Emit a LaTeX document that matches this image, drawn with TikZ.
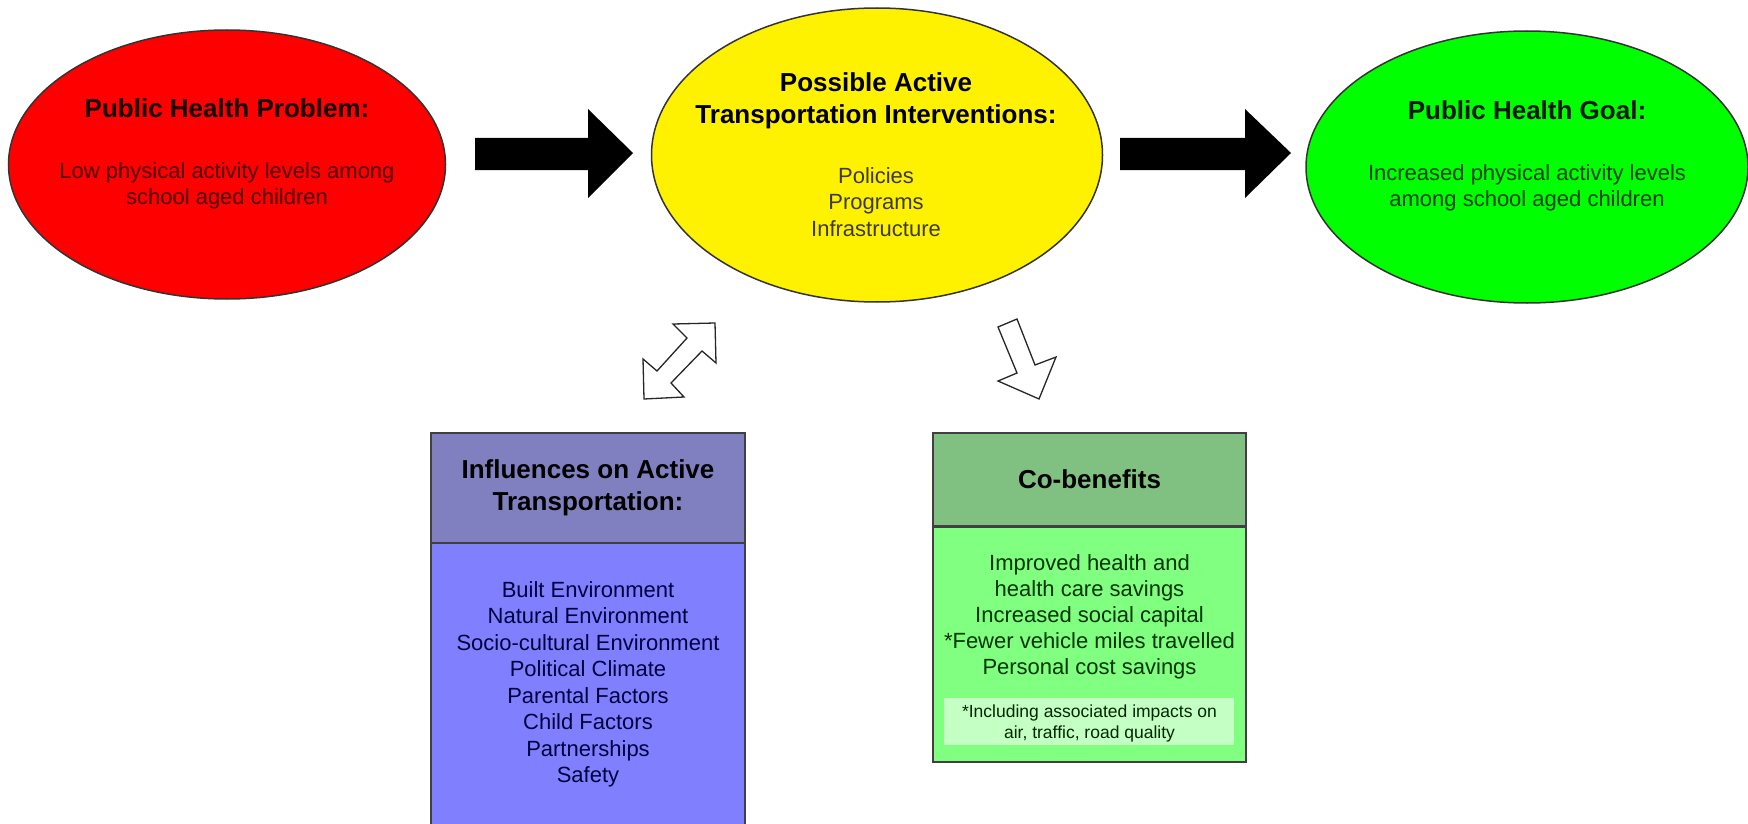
\documentclass[tikz,border=0pt]{standalone}
\usepackage{fontspec}
\setmainfont{Liberation Sans}
\usetikzlibrary{shapes.geometric}
\definecolor{purphead}{HTML}{8080C0}
\definecolor{purpbody}{HTML}{8080FF}
\definecolor{grnhead}{HTML}{80C080}
\definecolor{grnbody}{HTML}{80FF80}
\definecolor{grnnote}{HTML}{C4FFC4}
\definecolor{boxline}{HTML}{404040}
\tikzset{
  oval/.style={ellipse, draw=black!80, line width=1.5pt, inner sep=0pt},
  ttl/.style={anchor=base, align=center, inner sep=0pt, font=\fontsize{26}{31.7}\selectfont\bfseries},
  bdy/.style={anchor=base, align=center, inner sep=0pt, font=\fontsize{22}{26.7}\selectfont},
  notetxt/.style={anchor=base, align=center, inner sep=0pt, font=\fontsize{17.5}{21.7}\selectfont},
  blockarrow/.style={fill=black},
  hollowarrow/.style={draw=black!85, fill=white, line width=1.3pt, line join=miter},
  boxedge/.style={draw=boxline, line width=2pt}
}
\begin{document}
\begin{tikzpicture}[x=1pt,y=-1pt]
\useasboundingbox (0,0) rectangle (1748,824);
% ellipses
\node[oval, fill=red, minimum width=437pt, minimum height=269pt] (prob) at (227,164.5) {};
\node[oval, fill=yellow, minimum width=451pt, minimum height=294pt] (interv) at (877,155) {};
\node[oval, fill=green, minimum width=442pt, minimum height=272pt] (goal) at (1527,167) {};
% texts in ellipses (anchor=base is the last line's baseline)
\node[ttl, text=black!90!red] (probT) at (227,118) {Public Health Problem:};
\node[bdy, text=red!30!black] (probB) at (227,204.7) {Low physical activity levels among\\school aged children};
\node[ttl] (intervT) at (876,123.5) {Possible Active\\Transportation Interventions:};
\node[bdy, text=yellow!12!black] (intervB) at (876,236.4) {Policies\\Programs\\Infrastructure};
\node[ttl, text=black!90!green] (goalT) at (1527,120) {Public Health Goal:};
\node[bdy, text=green!25!black] (goalB) at (1527,206.7) {Increased physical activity levels\\among school aged children};
% black block arrows
\fill[blockarrow] (475,138) -- (588,138) -- (588,109) -- (633,153) -- (588,198) -- (588,170) -- (475,170) -- cycle;
\fill[blockarrow] (1120,138) -- (1245,138) -- (1245,109) -- (1291,153) -- (1245,198) -- (1245,170) -- (1120,170) -- cycle;
% hollow arrows
\draw[hollowarrow] (715,323) -- (673,324) -- (687,338) -- (657,371) -- (643,359) -- (644,399) -- (684,397) -- (671,383) -- (702,351) -- (716,363) -- cycle;
\draw[hollowarrow] (998,327) -- (1017,319) -- (1035,365) -- (1056,357) -- (1039,399) -- (998,381) -- (1017,373) -- cycle;
% influences box
\fill[purpbody] (431,543) rectangle (745,824);
\fill[purphead] (431,433) rectangle (745,543);
\draw[boxedge] (431,824) -- (431,433) -- (745,433) -- (745,824);
\draw[boxedge] (431,543) -- (745,543);
\node[ttl] (inflT) at (588,510.5) {Influences on Active\\Transportation:};
\node[bdy, text=blue!25!black, font=\fontsize{22}{26.5}\selectfont] (inflB) at (588,782.5) {Built Environment\\Natural Environment\\Socio-cultural Environment\\Political Climate\\Parental Factors\\Child Factors\\Partnerships\\Safety};
% co-benefits box
\fill[grnbody] (933,526) rectangle (1246,762);
\fill[grnhead] (933,433) rectangle (1246,526);
\draw[boxedge] (933,433) rectangle (1246,762);
\draw[boxedge, line width=3pt] (933,526) -- (1246,526);
\fill[grnnote] (944,698) rectangle (1234,745);
\node[ttl] (coT) at (1089.5,488) {Co-benefits};
\node[bdy, text=green!20!black, font=\fontsize{22}{26}\selectfont] (coB) at (1089.5,674) {Improved health and\\health care savings\\Increased social capital\\*Fewer vehicle miles travelled\\Personal cost savings};
\node[notetxt, text=green!15!black] (coN) at (1089.5,738.7) {*Including associated impacts on\\air, traffic, road quality};
\end{tikzpicture}
\end{document}
